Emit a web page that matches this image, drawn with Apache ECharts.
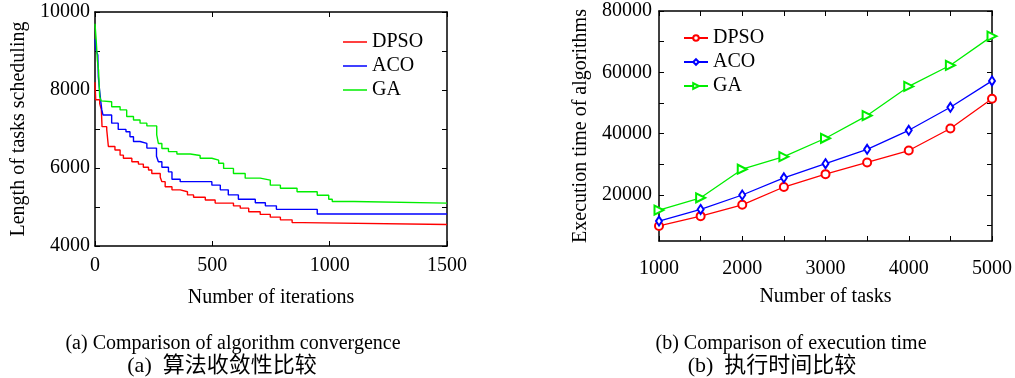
<!DOCTYPE html>
<html>
<head>
<meta charset="utf-8">
<script src="https://cdn.jsdelivr.net/npm/echarts@6/dist/echarts.min.js"></script>
<style>
    html, body { margin: 0; padding: 0; background: #fff; }
    #conv { position: absolute; left: 0; top: 0; width: 507px; height: 378px; }
    #time { position: absolute; left: 507px; top: 0; width: 508px; height: 378px; }
</style>
</head>
<body>
<div id="conv"></div>
<div id="time"></div>
<script>
// (a) convergence, [iteration, length] at each step change
const dpsoSteps = [[0, 8200], [3, 7750], [20, 7650], [27, 7500], [30, 7060], [50, 6980], [57, 6550], [85, 6460],
    [107, 6330], [121, 6250], [157, 6160], [185, 6100], [206, 6020], [228, 5950], [242, 5860], [278, 5760],
    [285, 5650], [299, 5520], [328, 5440], [363, 5390], [394, 5310], [420, 5250], [470, 5180], [512, 5100],
    [590, 5030], [619, 4970], [655, 4880], [704, 4810], [747, 4740], [790, 4670], [840, 4600], [885, 4550],
    [1500, 4550]];
const acoSteps = [[0, 9300], [4, 9030], [12, 8900], [14, 8350], [18, 8080], [24, 7740], [29, 7490], [34, 7360],
    [71, 7150], [99, 6990], [132, 6930], [149, 6800], [164, 6680], [192, 6630], [221, 6510], [262, 6300],
    [270, 6160], [285, 6020], [313, 5900], [328, 5710], [363, 5650], [498, 5560], [534, 5440], [568, 5310],
    [611, 5200], [683, 5110], [726, 5030], [773, 4940], [947, 4820], [1500, 4820]];
const gaSteps = [[0, 9700], [5, 9280], [10, 8770], [15, 8510], [20, 7830], [26, 7720], [29, 7700], [71, 7570],
    [107, 7490], [135, 7320], [164, 7230], [192, 7150], [221, 7080], [263, 6850], [270, 6630], [285, 6500],
    [313, 6420], [349, 6360], [406, 6320], [448, 6250], [498, 6200], [527, 6120], [548, 5990], [590, 5860],
    [640, 5740], [704, 5690], [747, 5560], [790, 5480], [861, 5390], [947, 5300], [996, 5200], [1011, 5140],
    [1103, 5100], [1500, 5100]];

// (b) execution time
const taskCounts = [1000, 1500, 2000, 2500, 3000, 3500, 4000, 4500, 5000];
const dpsoTime = [9900, 13100, 16800, 22600, 26800, 30600, 34500, 41700, 51400];
const acoTime = [11500, 15300, 20000, 25600, 30200, 34900, 41100, 48600, 57200];
const gaTime = [15100, 19100, 28400, 32500, 38500, 45900, 55400, 62300, 71800];
const timeLabels = [20000, 40000, 60000, 80000];
const timeTicks = [10000, 20000, 30000, 40000, 50000, 60000, 70000, 80000];

const serif = "'Liberation Serif', 'Times New Roman', serif";
const red = '#ff0000', blue = '#0000ff', green = '#00ee00';

function frame(extra) {
    return Object.assign({
        type: 'value',
        splitLine: {show: false},
        axisLine: {show: true, onZero: false, lineStyle: {color: '#000', width: 1.5}},
        axisTick: {show: true, inside: true, length: 5, lineStyle: {color: '#000'}},
        axisLabel: {show: false},
        nameTextStyle: {color: '#000', fontSize: 20, fontFamily: serif}
    }, extra);
}

function labels(extra) {
    return Object.assign({show: true, color: '#000', fontSize: 20, fontFamily: serif,
        showMinLabel: true, showMaxLabel: true, formatter: v => String(v)}, extra);
}

function caption(x, y, text, size) {
    return {type: 'text', x: x, y: y, style: {text: text, font: size + "px 'Liberation Serif', 'Noto Sans CJK SC'",
        fill: '#000', textAlign: 'center', textVerticalAlign: 'middle'}};
}

function stepLine(name, data, color) {
    return {name: name, type: 'line', step: 'end', symbol: 'none', data: data,
        lineStyle: {color: color, width: 1.4}, itemStyle: {color: color}};
}

function pairs(xs, ys) {
    return xs.map((x, i) => [x, ys[i]]);
}

function markLine(name, ys, color, symbol, size, rotate) {
    return {name: name, type: 'line', data: pairs(taskCounts, ys), symbol: symbol, symbolSize: size,
        symbolRotate: rotate || 0, lineStyle: {color: color, width: 1.3},
        itemStyle: {color: color, borderColor: color, borderWidth: 1.2}};
}

let conv = echarts.init(document.getElementById('conv'));
conv.setOption({
    animation: false,
    grid: {left: 95, top: 12, width: 352, height: 234},
    legend: {
        orient: 'vertical', left: 338, top: 27, itemGap: 4, itemWidth: 24, itemHeight: 1.5, icon: 'rect',
        textStyle: {color: '#000', fontSize: 20, fontFamily: serif},
        data: ['DPSO', 'ACO', 'GA']
    },
    xAxis: [
        frame({min: 0, max: 1500, interval: 500, name: 'Number of iterations', nameLocation: 'middle', nameGap: 42,
            axisLabel: labels({margin: 10})}),
        frame({position: 'top', min: 0, max: 1500, interval: 500})
    ],
    yAxis: [
        frame({min: 4000, max: 10000, interval: 1000, name: 'Length of tasks scheduling', nameLocation: 'middle', nameGap: 60,
            axisLabel: labels({margin: 5, formatter: v => (v % 2000 === 0 ? String(v) : '')})}),
        frame({position: 'right', min: 4000, max: 10000, interval: 1000})
    ],
    graphic: [
        caption(233, 344, '(a) Comparison of algorithm convergence', 20),
        caption(222, 366, '(a)  算法收敛性比较', 22)
    ],
    series: [
        stepLine('DPSO', dpsoSteps, red),
        stepLine('ACO', acoSteps, blue),
        stepLine('GA', gaSteps, green)
    ]
});

let time = echarts.init(document.getElementById('time'));
time.setOption({
    animation: false,
    grid: {left: 152, top: 11, width: 336, height: 230},
    legend: {
        orient: 'vertical', left: 171, top: 23, itemGap: 4, itemWidth: 24, itemHeight: 7,
        textStyle: {color: '#000', fontSize: 20, fontFamily: serif},
        data: ['DPSO', 'ACO', 'GA']
    },
    xAxis: [
        frame({min: 1000, max: 5000, interval: 500, name: 'Number of tasks', nameLocation: 'middle', nameGap: 46,
            axisLabel: labels({margin: 18, formatter: v => (v % 1000 === 0 ? String(v) : '')})}),
        frame({position: 'top', min: 1000, max: 5000, interval: 500})
    ],
    yAxis: [
        frame({min: 5000, max: 80000, name: 'Execution time of algorithms', nameLocation: 'middle', nameGap: 63,
            axisTick: {show: true, inside: true, length: 5, lineStyle: {color: '#000'}, customValues: timeTicks},
            axisLabel: labels({margin: 7, customValues: timeLabels})}),
        frame({position: 'right', min: 5000, max: 80000,
            axisTick: {show: true, inside: true, length: 5, lineStyle: {color: '#000'}, customValues: timeTicks}})
    ],
    graphic: [
        caption(284, 344, '(b) Comparison of execution time', 20),
        caption(265, 366, '(b)  执行时间比较', 22)
    ],
    series: [
        markLine('DPSO', dpsoTime, red, 'emptyCircle', 8),
        markLine('ACO', acoTime, blue, 'emptyDiamond', [6, 9]),
        markLine('GA', gaTime, green, 'emptyTriangle', 9, -90)
    ]
});

window.addEventListener('resize', function () {
    conv.resize();
    time.resize();
});
</script>
</body>
</html>
